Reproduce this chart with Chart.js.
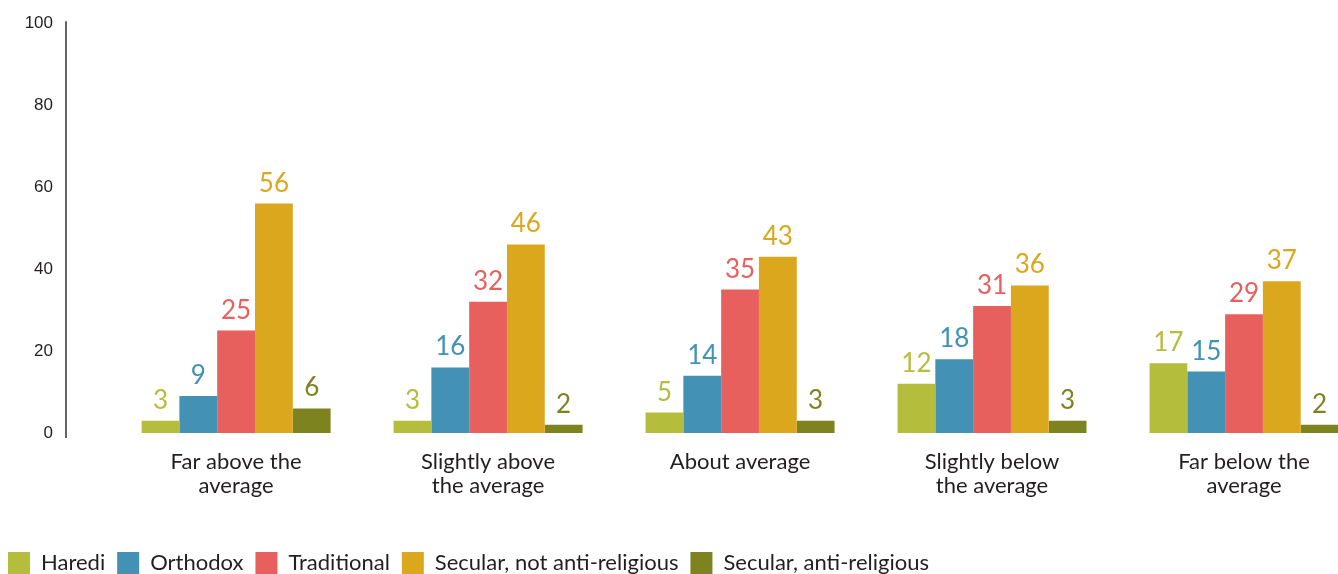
<!DOCTYPE html>
<html>
<head>
<meta charset="utf-8">
<script src="https://cdn.jsdelivr.net/npm/chart.js@4/dist/chart.umd.min.js"></script>
<style>
  html, body { margin: 0; padding: 0; background: #fff; overflow: hidden; }
  #wrap { width: 1338px; height: 574px; position: relative; }
</style>
</head>
<body>
<div id="wrap"><canvas id="chart"></canvas></div>
<script>
// categories (split into lines as in the picture)
const categories = [
    ['Far above the', 'average'],
    ['Slightly above', 'the average'],
    ['About average'],
    ['Slightly below', 'the average'],
    ['Far below the', 'average']
];

const seriesNames = ['Haredi', 'Orthodox', 'Traditional', 'Secular, not anti-religious', 'Secular, anti-religious'];
const seriesColors = ['#b5bd3c', '#4391b4', '#e8605e', '#dba71d', '#7d831f'];

const haredi = [3, 3, 5, 12, 17];
const orthodox = [9, 16, 14, 18, 15];
const traditional = [25, 32, 35, 31, 29];
const secularNotAnti = [56, 46, 43, 36, 37];
const secularAnti = [6, 2, 3, 3, 2];

const yTicks = [0, 20, 40, 60, 80, 100];

const seriesValues = [haredi, orthodox, traditional, secularNotAnti, secularAnti];

document.addEventListener('DOMContentLoaded', function () {
    const ctx = document.getElementById('chart').getContext('2d');

    // Value labels above each bar, same colour as the bar
    const valueLabels = {
        id: 'valueLabels',
        beforeDraw(chart) {
            // push the legend to the left / bottom edge like the original
            const lg = chart.legend;
            lg.left = -4;
            lg.top = chart.height - lg.height + 10;
        },
        afterDatasetsDraw(chart) {
            const c = chart.ctx;
            c.save();
            c.font = '26px Lato';
            c.textAlign = 'center';
            c.textBaseline = 'alphabetic';
            chart.data.datasets.forEach((ds, i) => {
                const meta = chart.getDatasetMeta(i);
                meta.data.forEach((bar, j) => {
                    c.fillStyle = ds.backgroundColor;
                    c.fillText(String(ds.data[j].y), bar.x, bar.y - 12);
                });
            });
            c.restore();
        },
        afterDraw(chart) {
            // y axis line runs a little past both ends
            const a = chart.chartArea;
            const c = chart.ctx;
            c.save();
            c.strokeStyle = '#333';
            c.lineWidth = 1.5;
            c.beginPath();
            c.moveTo(a.left, a.top - 2);
            c.lineTo(a.left, a.bottom + 5);
            c.stroke();
            c.restore();
        }
    };

    const datasets = seriesNames.map((name, i) => ({
        label: name,
        data: seriesValues[i].map((v, j) => ({ x: j, y: v })),
        backgroundColor: seriesColors[i],
        borderWidth: 0,
        categoryPercentage: 0.75,
        barPercentage: 1.0
    }));

    new Chart(ctx, {
        type: 'bar',
        data: { datasets: datasets },
        options: {
            responsive: true,
            maintainAspectRatio: false,
            animation: false,
            layout: { padding: { left: 0, right: 0, top: 3, bottom: 0 } },
            plugins: {
                tooltip: { enabled: false },
                legend: {
                    position: 'bottom',
                    align: 'start',
                    labels: {
                        boxWidth: 22,
                        boxHeight: 22,
                        padding: 12,
                        color: '#231f20',
                        font: { family: 'Lato', size: 22 }
                    }
                }
            },
            scales: {
                x: {
                    type: 'linear',
                    offset: false,
                    min: -0.675,
                    max: 4.373,
                    grid: { display: false, offset: false },
                    border: { display: false },
                    afterBuildTicks: function (scale) {
                        scale.ticks = categories.map((c, i) => ({ value: i }));
                    },
                    ticks: {
                        autoSkip: false,
                        maxRotation: 0,
                        color: '#231f20',
                        font: { family: 'Lato', size: 22, lineHeight: 1.1 },
                        padding: 9,
                        callback: function (v) {
                            return categories[v] || '';
                        }
                    },
                    afterFit: function (scale) { scale.height = 97; }
                },
                y: {
                    min: 0,
                    max: 100,
                    grid: { display: false, drawTicks: false },
                    border: { display: false },
                    afterBuildTicks: function (scale) {
                        scale.ticks = yTicks.map(v => ({ value: v }));
                    },
                    ticks: {
                        color: '#231f20',
                        padding: 13,
                        font: { family: 'Liberation Sans', size: 17 }
                    },
                    afterFit: function (scale) { scale.width = 66; }
                }
            }
        },
        plugins: [valueLabels]
    });
});
</script>
</body>
</html>
